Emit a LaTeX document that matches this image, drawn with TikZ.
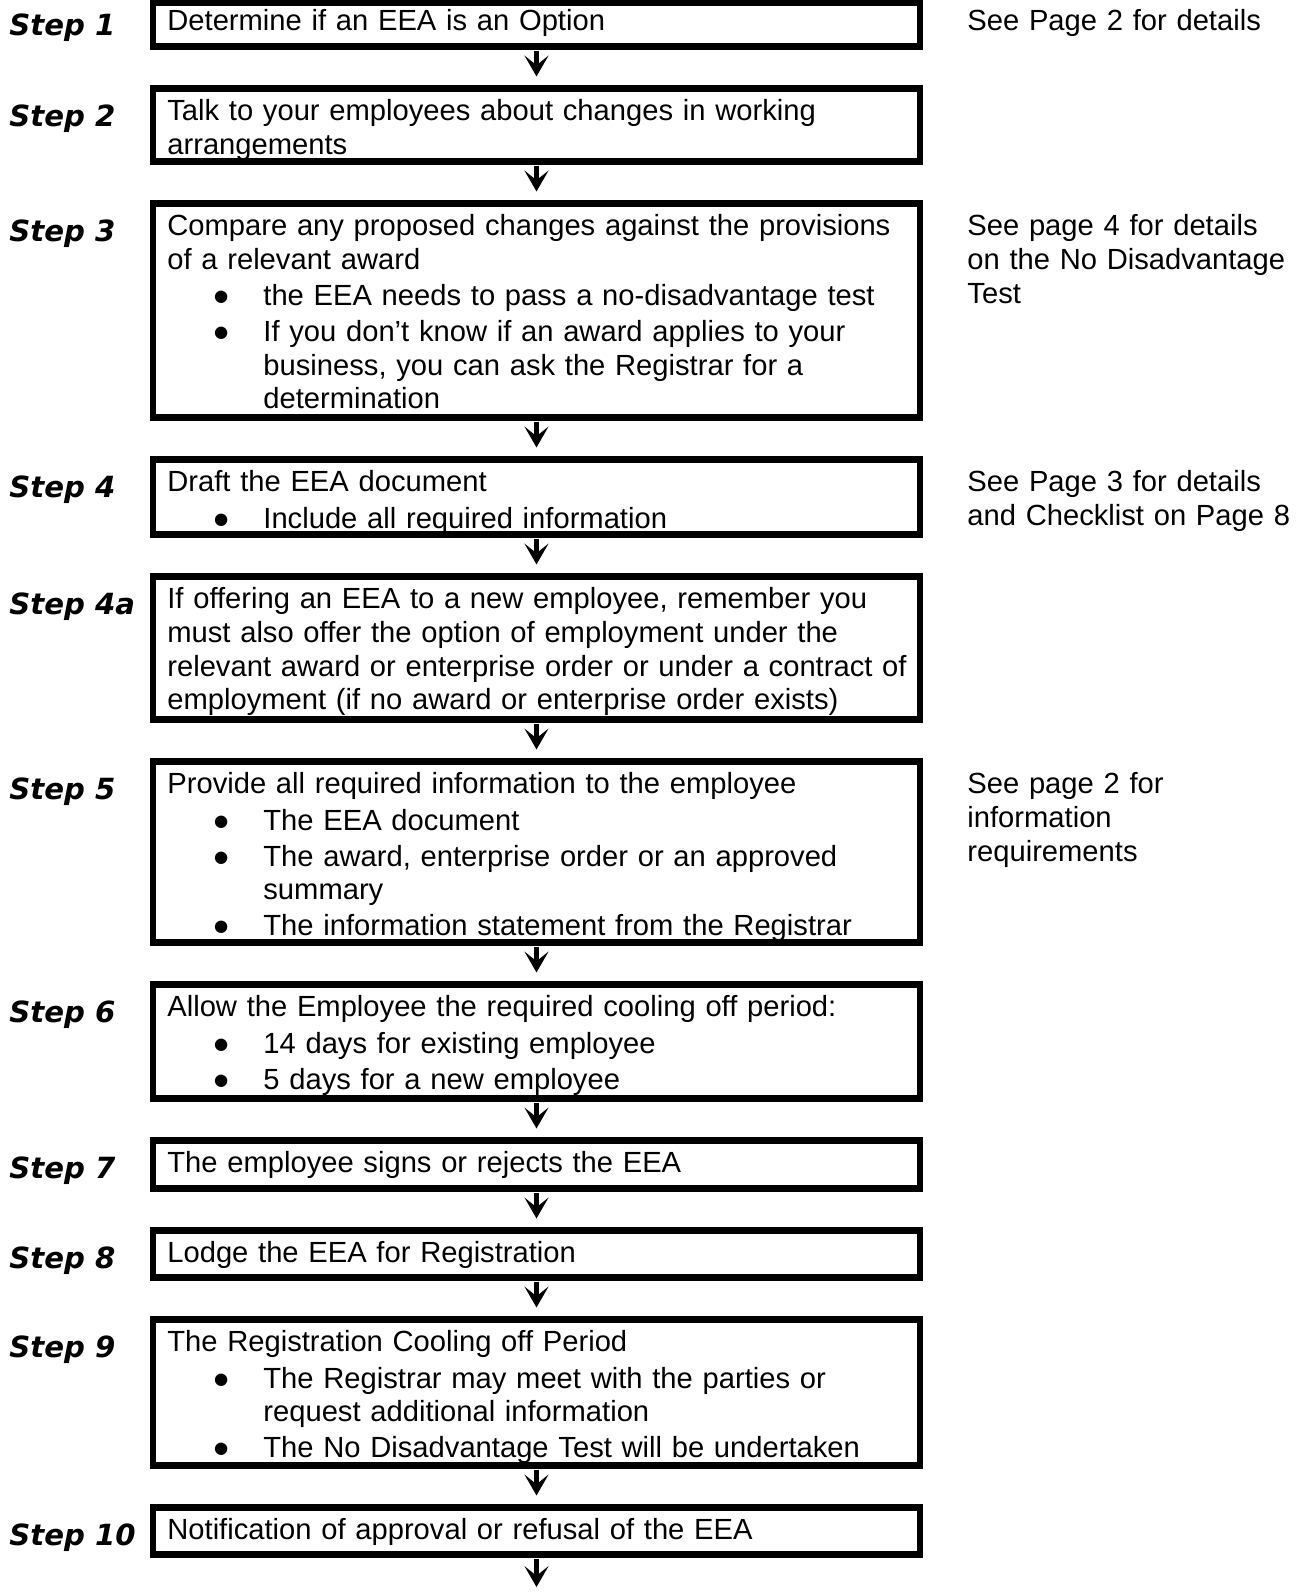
\documentclass[tikz,border=0pt]{standalone}
\usepackage{fontspec}
\setmainfont{Liberation Sans}
\newfontfamily\steplabelfont{DejaVu Sans}
\usetikzlibrary{positioning, arrows.meta}

\newcommand{\pxu}{0.48pt}
\newcommand{\bul}[1]{\par\vspace{1.2pt}{\leftskip=46.1pt\noindent\llap{\raisebox{1.8pt}{\fontsize{7.8pt}{7.8pt}\steplabelfont ●}\hspace{16.8pt}}#1\par}}

\begin{document}
\begin{tikzpicture}
	[
		x=\pxu, y=-\pxu,
		node distance=17.16pt,
		stepbox/.style={draw, line width=3pt, outer sep=1.5pt, inner sep=0pt, minimum width=368.16pt},
		textblock/.style={anchor=north west, inner sep=0pt, yshift=-5.6pt, text width=370pt, align=left, font=\fontsize{14pt}{16.1pt}\selectfont},
		boxtext/.style={textblock, xshift=8.2pt},
		steplabel/.style={anchor=base west, inner sep=0pt, yshift=-19.6pt, font=\fontsize{14pt}{16.1pt}\steplabelfont\bfseries\itshape},
		flow/.style={-{Stealth[length=10pt, width=11.5pt, inset=4.6pt]}, line width=2.5pt, shorten <=0.5pt, shorten >=4.3pt}
	]
	\fill[white] (0,0) rectangle (1301,1593);
	\useasboundingbox (0,0) rectangle (1301,1593);
	\coordinate (labcol) at (9,0);
	\coordinate (notecol) at (967,0);

	\node[stepbox, anchor=north, minimum height=21.12pt] (b1) at (536.5,-0.6) {};
	\node[stepbox, minimum height=35.04pt, below=of b1] (b2) {};
	\node[stepbox, minimum height=102.72pt, below=of b2] (b3) {};
	\node[stepbox, minimum height=36pt, below=of b3] (b4) {};
	\node[stepbox, minimum height=68.64pt, below=of b4] (b4a) {};
	\node[stepbox, minimum height=86.88pt, below=of b4a] (b5) {};
	\node[stepbox, minimum height=54.72pt, below=of b5] (b6) {};
	\node[stepbox, minimum height=23.04pt, below=of b6] (b7) {};
	\node[stepbox, minimum height=22.56pt, below=of b7] (b8) {};
	\node[stepbox, minimum height=70.08pt, below=of b8] (b9) {};
	\node[stepbox, minimum height=22.56pt, below=of b9] (b10) {};
	\coordinate (fin) at (536.5,1587);

	\node[boxtext, yshift=2pt] (t1) at (b1.north west) {\strut Determine if an EEA is an Option};
	\node[boxtext] (t2) at (b2.north west) {\strut Talk to your employees about changes in working\\ arrangements};
	\node[boxtext] (t3) at (b3.north west) {\strut Compare any proposed changes against the provisions\\ of a relevant award
		\bul{the EEA needs to pass a no-disadvantage test}
		\bul{If you don’t know if an award applies to your\\ business, you can ask the Registrar for a\\ determination}};
	\node[boxtext] (t4) at (b4.north west) {\strut Draft the EEA document
		\bul{Include all required information}};
	\node[boxtext] (t4a) at (b4a.north west) {\strut If offering an EEA to a new employee, remember you\\ must also offer the option of employment under the\\ relevant award or enterprise order or under a contract of\\ employment (if no award or enterprise order exists)};
	\node[boxtext] (t5) at (b5.north west) {\strut Provide all required information to the employee
		\bul{The EEA document}
		\bul{The award, enterprise order or an approved\\ summary}
		\bul{The information statement from the Registrar}};
	\node[boxtext] (t6) at (b6.north west) {\strut Allow the Employee the required cooling off period:
		\bul{14 days for existing employee}
		\bul{5 days for a new employee}};
	\node[boxtext] (t7) at (b7.north west) {\strut The employee signs or rejects the EEA};
	\node[boxtext] (t8) at (b8.north west) {\strut Lodge the EEA for Registration};
	\node[boxtext] (t9) at (b9.north west) {\strut The Registration Cooling off Period
		\bul{The Registrar may meet with the parties or\\ request additional information}
		\bul{The No Disadvantage Test will be undertaken}};
	\node[boxtext] (t10) at (b10.north west) {\strut Notification of approval or refusal of the EEA};

	\node[steplabel, yshift=2.4pt] (l1) at (b1.north -| labcol) {Step 1};
	\node[steplabel] (l2) at (b2.north -| labcol) {Step 2};
	\node[steplabel] (l3) at (b3.north -| labcol) {Step 3};
	\node[steplabel] (l4) at (b4.north -| labcol) {Step 4};
	\node[steplabel] (l4a) at (b4a.north -| labcol) {Step 4a};
	\node[steplabel] (l5) at (b5.north -| labcol) {Step 5};
	\node[steplabel] (l6) at (b6.north -| labcol) {Step 6};
	\node[steplabel] (l7) at (b7.north -| labcol) {Step 7};
	\node[steplabel] (l8) at (b8.north -| labcol) {Step 8};
	\node[steplabel] (l9) at (b9.north -| labcol) {Step 9};
	\node[steplabel] (l10) at (b10.north -| labcol) {Step 10};

	\node[textblock, yshift=2pt] (n1) at (b1.north -| notecol) {\strut See Page 2 for details};
	\node[textblock] (n3) at (b3.north -| notecol) {\strut See page 4 for details\\ on the No Disadvantage\\ Test};
	\node[textblock] (n4) at (b4.north -| notecol) {\strut See Page 3 for details\\ and Checklist on Page 8};
	\node[textblock] (n5) at (b5.north -| notecol) {\strut See page 2 for\\ information\\ requirements};

	\draw[flow] (b1) -- (b2);
	\draw[flow] (b2) -- (b3);
	\draw[flow] (b3) -- (b4);
	\draw[flow] (b4) -- (b4a);
	\draw[flow] (b4a) -- (b5);
	\draw[flow] (b5) -- (b6);
	\draw[flow] (b6) -- (b7);
	\draw[flow] (b7) -- (b8);
	\draw[flow] (b8) -- (b9);
	\draw[flow] (b9) -- (b10);
	\draw[flow, shorten >=0pt] (b10) -- (fin);
\end{tikzpicture}
\end{document}
